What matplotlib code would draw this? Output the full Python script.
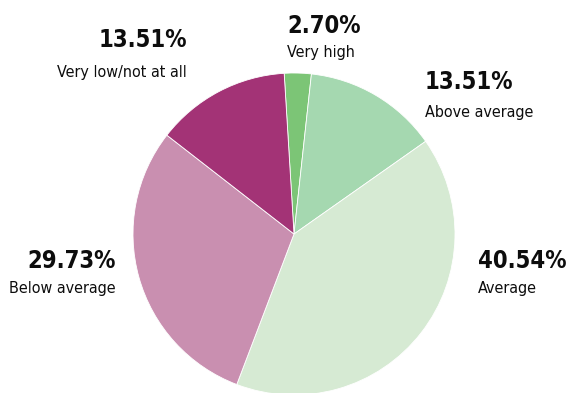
import matplotlib
matplotlib.use("Agg")
import matplotlib.pyplot as plt
from matplotlib import font_manager as fm

# ---- data ----
categories = ["Very high", "Above average", "Average", "Below average", "Very low/not at all"]
values = [2.70, 13.51, 40.54, 29.73, 13.51]
pct_labels = ["2.70%", "13.51%", "40.54%", "29.73%", "13.51%"]
colors = ["#7cc576", "#a5d8b0", "#d6ead3", "#c98fb0", "#a33376"]

# ---- font selection (condensed look) ----
def pick(bold):
    want_w = "bold" if bold else "normal"
    cands = []
    for f in fm.fontManager.ttflist:
        name = f.name
        isbold = (f.weight in ("bold", 700, "700")) or (isinstance(f.weight, int) and f.weight >= 700)
        if isbold != bold:
            continue
        if "italic" in str(f.style) or "oblique" in str(f.style):
            continue
        if name == "Liberation Sans Narrow":
            cands.append((0, f.fname))
        elif name == "DejaVu Sans" and "condensed" in str(f.stretch):
            cands.append((1, f.fname))
    cands.sort()
    if cands:
        return fm.FontProperties(fname=cands[0][1]), cands[0][0]
    return fm.FontProperties(family="DejaVu Sans", weight=want_w), 2

fp_b, kb = pick(True)
fp_r, kr = pick(False)

W, H = 569, 393
fig = plt.figure(figsize=(W / 100, H / 100), dpi=100)
fig.patch.set_facecolor("white")

# pie placement in pixels
cx, cy, r = 294, 234, 161
ax = fig.add_axes([(cx - r) / W, 1 - (cy + r) / H, 2 * r / W, 2 * r / H])
ax.pie(values, colors=colors, startangle=93.5, counterclock=False,
       wedgeprops=dict(linewidth=0.6, edgecolor="white"))
ax.set_xlim(-1, 1)
ax.set_ylim(-1, 1)
ax.set_aspect("equal")
ax.axis("off")

# label layout: (x_px, pct_baseline_px, label_baseline_px, ha)
layout = [
    (287, 33, 57, "left"),
    (425, 89, 117, "left"),
    (478, 268, 293, "left"),
    (116, 268, 293, "right"),
    (187, 47, 77, "right"),
]
bsize = {0: 21, 1: 17, 2: 16}[kb]
rsize = {0: 13.3, 1: 11.5, 2: 11}[kr]
for (x, yp, yl, ha), p, c in zip(layout, pct_labels, categories):
    fig.text(x / W, 1 - yp / H, p, ha=ha, va="baseline", fontproperties=fp_b,
             fontsize=bsize, color="#0d0d0d")
    fig.text(x / W, 1 - yl / H, c, ha=ha, va="baseline", fontproperties=fp_r,
             fontsize=rsize, color="#0d0d0d")

fig.savefig("out.png", dpi=100, facecolor="white")
